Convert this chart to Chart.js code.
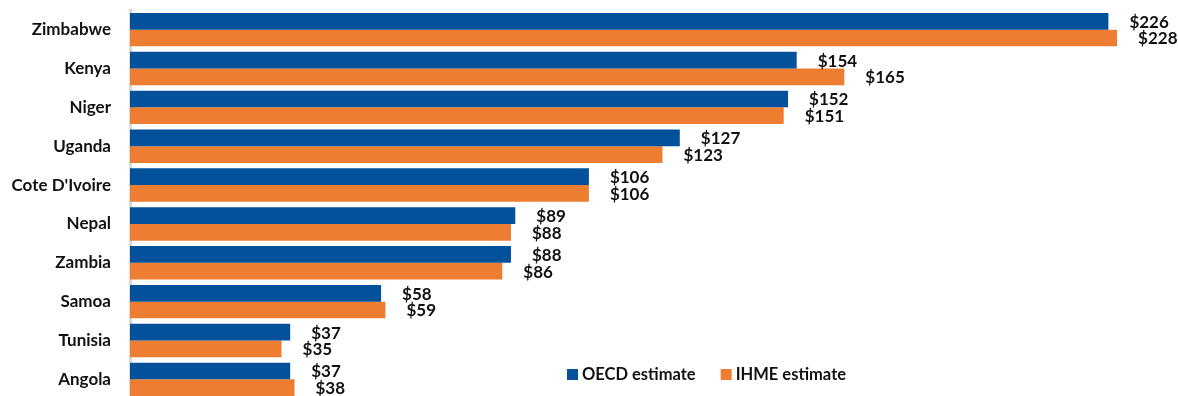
<!DOCTYPE html>
<html>
<head>
<meta charset="utf-8">
<title>Health spending estimates by country</title>
<script src="https://cdn.jsdelivr.net/npm/chart.js@4.4.1/dist/chart.umd.min.js"></script>
<style>
  html, body { margin: 0; padding: 0; background: #ffffff; overflow: hidden; }
  #wrap { position: relative; width: 1178px; height: 409px; }
</style>
</head>
<body>
<div id="wrap"><canvas id="chart"></canvas></div>
<script>
// Countries, top to bottom
const categories = ['Zimbabwe', 'Kenya', 'Niger', 'Uganda', "Cote D'Ivoire", 'Nepal', 'Zambia', 'Samoa', 'Tunisia', 'Angola'];
// Per-capita estimates in US dollars
const oecdEstimate = [226, 154, 152, 127, 106, 89, 88, 58, 37, 37];
const ihmeEstimate = [228, 165, 151, 123, 106, 88, 86, 59, 35, 38];
const seriesNames = ['OECD estimate', 'IHME estimate'];

const FONT = 'Lato, "Open Sans", "Liberation Sans", sans-serif';
const BLUE = '#03519B';
const ORANGE = '#ED7D31';

// Dollar labels just past the end of each bar
const valueLabels = {
  id: 'valueLabels',
  afterDatasetsDraw(chart) {
    const ctx = chart.ctx;
    ctx.save();
    ctx.font = 'bold 17px ' + FONT;
    ctx.fillStyle = '#111111';
    ctx.textAlign = 'left';
    ctx.textBaseline = 'middle';
    chart.data.datasets.forEach((ds, i) => {
      const meta = chart.getDatasetMeta(i);
      meta.data.forEach((bar, j) => {
        ctx.fillText('$' + ds.data[j], bar.x + 21, bar.y + 1);
      });
    });
    ctx.restore();
  }
};

// Legend drawn inside the plot, lower right
const innerLegend = {
  id: 'innerLegend',
  afterDraw(chart, args, opts) {
    const ctx = chart.ctx;
    const area = chart.chartArea;
    ctx.save();
    ctx.font = 'bold 16.5px ' + FONT;
    ctx.textBaseline = 'middle';
    ctx.textAlign = 'left';
    let x = area.left + opts.offsetX;
    const y = opts.y;
    chart.data.datasets.forEach((ds) => {
      ctx.fillStyle = ds.backgroundColor;
      ctx.fillRect(x, y - 5, 11, 11);
      ctx.fillStyle = '#111111';
      ctx.fillText(ds.label, x + 15, y + 1);
      x += 15 + ctx.measureText(ds.label).width + 25;
    });
    ctx.restore();
  }
};

new Chart(document.getElementById('chart'), {
  type: 'bar',
  data: {
    labels: categories,
    datasets: [
      { label: seriesNames[0], data: oecdEstimate, backgroundColor: BLUE, borderWidth: 0 },
      { label: seriesNames[1], data: ihmeEstimate, backgroundColor: ORANGE, borderWidth: 0 }
    ]
  },
  options: {
    indexAxis: 'y',
    responsive: true,
    maintainAspectRatio: false,
    animation: false,
    layout: { padding: { top: 9, bottom: 1, left: 0, right: 9 } },
    datasets: { bar: { categoryPercentage: 0.86, barPercentage: 1.0 } },
    scales: {
      x: { display: false, min: 0, max: 240 },
      y: {
        afterFit(scale) { scale.width = 130; },
        // invisible tick marks keep the names clear of the axis line
        grid: { display: true, drawOnChartArea: false, drawTicks: true, tickLength: 19, color: 'rgba(0,0,0,0)' },
        border: { display: true, color: '#D9D9D9', width: 3 },
        ticks: {
          padding: 0,
          color: '#111111',
          font: { family: FONT, size: 17, weight: 'bold' }
        }
      }
    },
    plugins: {
      legend: { display: false },
      tooltip: { enabled: false },
      innerLegend: { offsetX: 437, y: 374 }
    }
  },
  plugins: [valueLabels, innerLegend]
});
</script>
</body>
</html>
